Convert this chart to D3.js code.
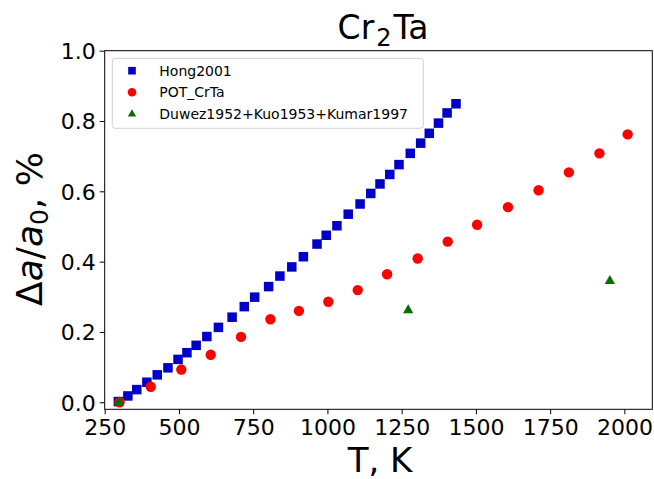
<!DOCTYPE html>
<html><head><meta charset="utf-8">
<script src="https://cdn.jsdelivr.net/npm/d3@7"></script>
<style>
body{margin:0;background:#fff;}
svg{display:block;font-family:"DejaVu Sans",sans-serif;}
</style></head>
<body><svg id="c" width="654" height="479"></svg>
<script>
const hongT = [296,328,358,392,427,463,497,527,558,594,633,679,720,755,802,840,880,919,965,996,1032,1070,1110,1146,1177,1210,1241,1279,1314,1343,1374,1403,1433];
const hongV = [0.002,0.018,0.036,0.057,0.078,0.098,0.122,0.141,0.162,0.187,0.213,0.242,0.272,0.299,0.329,0.359,0.385,0.414,0.450,0.475,0.502,0.535,0.564,0.594,0.621,0.648,0.676,0.708,0.737,0.765,0.794,0.823,0.849];
const potT = [300,405,508,607,709,808,904,1003,1102,1201,1304,1405,1504,1608,1711,1813,1916,2011];
const potV = [0.0,0.044,0.093,0.135,0.186,0.236,0.260,0.286,0.319,0.364,0.409,0.457,0.505,0.555,0.603,0.654,0.708,0.762];
const expT = [299,1272,1951];
const expV = [0.0,0.262,0.345];
const xTicks = [250,500,750,1000,1250,1500,1750,2000];
const yTicks = [0.0,0.2,0.4,0.6,0.8,1.0];
const seriesNames = ["Hong2001","POT_CrTa","Duwez1952+Kuo1953+Kumar1997"];
const seriesColors = ["#0000c8","#ff0000","#007000"];

const svg = d3.select("#c");
const L=104.7, R=652.3, T=50.7, B=409.3;
const x = d3.scaleLinear().domain([250,2094]).range([L,R]);
const y = d3.scaleLinear().domain([-0.02,1.0]).range([B,T]);

// axes
const xa = svg.append("g").attr("transform",`translate(0,${B})`)
  .call(d3.axisBottom(x).tickValues(xTicks).tickSize(5).tickPadding(4).tickFormat(d3.format("d")));
const ya = svg.append("g").attr("transform",`translate(${L},0)`)
  .call(d3.axisLeft(y).tickValues(yTicks).tickSize(5).tickPadding(4).tickFormat(d3.format(".1f")));
[xa,ya].forEach(g=>{
  g.select(".domain").remove();
  g.selectAll("text").attr("font-size",22).attr("font-family","DejaVu Sans").attr("fill","#000");
  g.selectAll("line").attr("stroke","#000").attr("stroke-width",1);
});
xa.selectAll("text").attr("dy","0.75em");
ya.selectAll("text").attr("dy","0.36em");
svg.append("rect").attr("x",L).attr("y",T).attr("width",R-L).attr("height",B-T)
  .attr("fill","none").attr("stroke","#000").attr("stroke-width",1);

const plot = svg.append("g");
const sq = 9.5;
plot.selectAll(".h").data(hongT).enter().append("rect")
  .attr("x",(d)=>x(d)-sq/2).attr("y",(d,i)=>y(hongV[i])-sq/2)
  .attr("width",sq).attr("height",sq).attr("fill",seriesColors[0]);
plot.selectAll(".p").data(potT).enter().append("circle")
  .attr("cx",d=>x(d)).attr("cy",(d,i)=>y(potV[i])).attr("r",5.2).attr("fill",seriesColors[1]);
const tri = d3.symbol().type(d3.symbolTriangle).size(46);
plot.selectAll(".e").data(expT).enter().append("path")
  .attr("d",tri).attr("transform",(d,i)=>`translate(${x(d)},${y(expV[i])})`).attr("fill",seriesColors[2]);

// legend
const lg = svg.append("g");
lg.append("rect").attr("x",112.3).attr("y",58.3).attr("width",311).attr("height",70)
  .attr("rx",3).attr("fill","#fff").attr("fill-opacity",0.8).attr("stroke","#d0d0d0").attr("stroke-width",1);
const rows=[70.7,92.3,114];
lg.append("rect").attr("x",132-3.8).attr("y",rows[0]-3.8).attr("width",7.6).attr("height",7.6).attr("fill",seriesColors[0]);
lg.append("circle").attr("cx",132).attr("cy",rows[1]).attr("r",4.3).attr("fill",seriesColors[1]);
lg.append("path").attr("d",d3.symbol().type(d3.symbolTriangle).size(30)).attr("transform",`translate(132,${rows[2]})`).attr("fill",seriesColors[2]);
seriesNames.forEach((n,i)=>{
  lg.append("text").attr("x",159.3).attr("y",rows[i]).attr("dy","0.36em").attr("font-size",14).text(n);
});

// title
const t = svg.append("text").attr("x",383).attr("y",39.3).attr("text-anchor","middle").attr("font-size",33);
t.append("tspan").text("Cr");
t.append("tspan").attr("font-size",24).attr("dy",7).attr("dx",2).text("2");
t.append("tspan").attr("dy",-7).attr("dx",2).text("Ta");

// x label
svg.append("text").attr("x",380).attr("y",472).attr("text-anchor","middle").attr("font-size",34).text("T, K");

// y label
const yl = svg.append("text").attr("transform","translate(42,229) rotate(-90)").attr("text-anchor","middle").attr("font-size",36);
yl.append("tspan").text("Δ");
yl.append("tspan").attr("font-style","italic").text("a");
yl.append("tspan").text("/");
yl.append("tspan").attr("font-style","italic").text("a");
yl.append("tspan").attr("font-size",25).attr("dy",6).text("0");
yl.append("tspan").attr("dy",-6).text(", %");
</script></body></html>
